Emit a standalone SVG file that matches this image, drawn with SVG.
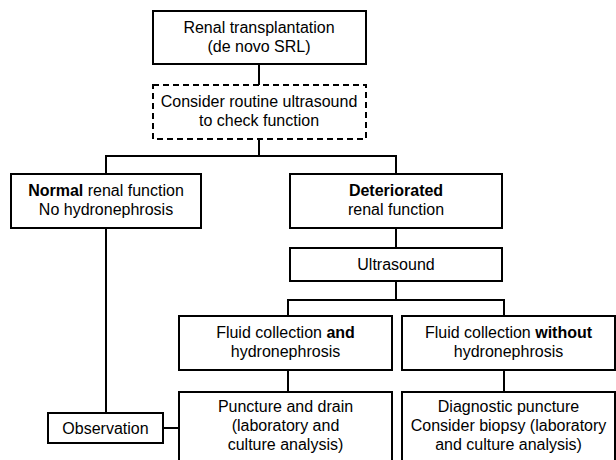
<svg xmlns="http://www.w3.org/2000/svg" width="616" height="460" viewBox="0 0 616 460">
<style>
.box{fill:#fff;stroke:#000;stroke-width:2}
.dash{fill:#fff;stroke:#000;stroke-width:2;stroke-dasharray:6 4}
.c{fill:none;stroke:#000;stroke-width:2}
text{font-family:"Liberation Sans",Arial,sans-serif;font-size:16px;fill:#000;text-anchor:middle}
.b{font-weight:bold}
</style>
<rect width="616" height="460" fill="#fff"/>
<g id="connectors">
<path class="c" d="M259 64V85"/>
<path class="c" d="M259 139V156M106 174V156H396V174"/>
<path class="c" d="M396 228V248"/>
<path class="c" d="M396 281V300M288 316V300H504V316"/>
<path class="c" d="M288 370V392"/>
<path class="c" d="M504 370V392"/>
<path class="c" d="M106 228V413"/>
<path class="c" d="M163 428H179"/>
</g>
<g id="n1"><rect class="box" x="153" y="11" width="213" height="53"/>
<text x="259" y="32.5">Renal transplantation</text><text x="259" y="52">(de novo SRL)</text></g>
<g id="n2"><rect class="dash" x="153" y="85" width="213" height="54"/>
<text x="259" y="107">Consider routine ultrasound</text><text x="259" y="126">to check function</text></g>
<g id="n3"><rect class="box" x="11" y="174" width="190" height="54"/>
<text x="106" y="196"><tspan class="b">Normal</tspan> renal function</text><text x="106" y="215">No hydronephrosis</text></g>
<g id="n4"><rect class="box" x="290" y="174" width="212" height="54"/>
<text x="396" y="196" class="b">Deteriorated</text><text x="396" y="215">renal function</text></g>
<g id="n5"><rect class="box" x="290" y="248" width="212" height="33"/>
<text x="396" y="270">Ultrasound</text></g>
<g id="n6"><rect class="box" x="179" y="316" width="213" height="54"/>
<text x="285.5" y="337.5">Fluid collection <tspan class="b">and</tspan></text><text x="285.5" y="356.5">hydronephrosis</text></g>
<g id="n7"><rect class="box" x="402" y="316" width="213" height="54"/>
<text x="508.5" y="337.5">Fluid collection <tspan class="b">without</tspan></text><text x="508.5" y="356.5">hydronephrosis</text></g>
<g id="n8"><rect class="box" x="179" y="392" width="213" height="72"/>
<text x="285.5" y="412">Puncture and drain</text><text x="285.5" y="431">(laboratory and</text><text x="285.5" y="450">culture analysis)</text></g>
<g id="n9"><rect class="box" x="402" y="392" width="213" height="72"/>
<text x="508.5" y="412">Diagnostic puncture</text><text x="508.5" y="431">Consider biopsy (laboratory</text><text x="508.5" y="450">and culture analysis)</text></g>
<g id="n10"><rect class="box" x="48" y="413" width="115" height="30"/>
<text x="105.5" y="433.5">Observation</text></g>
</svg>
